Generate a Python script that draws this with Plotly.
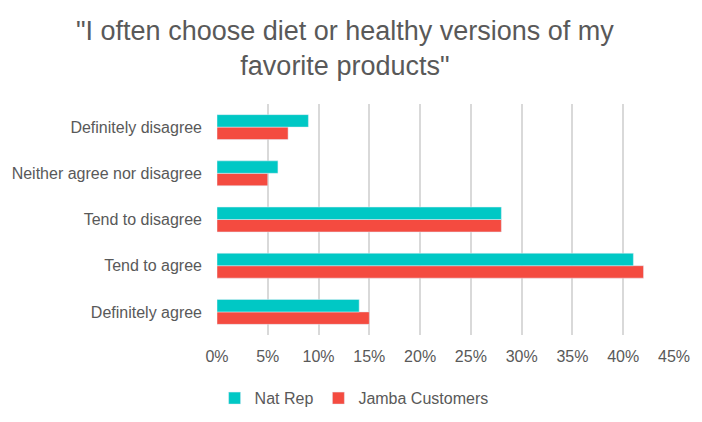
import plotly.graph_objects as go

categories = ["Definitely agree", "Tend to agree", "Tend to disagree",
              "Neither agree nor disagree", "Definitely disagree"]
nat_rep = [14, 41, 28, 6, 9]
jamba = [15, 42, 28, 5, 7]
tick_vals = [0, 5, 10, 15, 20, 25, 30, 35, 40, 45]
tick_text = [f"{v}%" for v in tick_vals]
title_text = '"I often choose diet or healthy versions of my<br>favorite products"'

FONT = "Liberation Sans"
GRAY = "#595959"

fig = go.Figure()
fig.add_trace(go.Bar(y=categories, x=jamba, orientation="h", name="Jamba Customers",
                     marker=dict(color="#F44B40")))
fig.add_trace(go.Bar(y=categories, x=nat_rep, orientation="h", name="Nat Rep",
                     marker=dict(color="#00C8C5")))

fig.update_layout(
    width=702, height=422,
    margin=dict(l=209, r=36, t=96, b=95, autoexpand=False),
    paper_bgcolor="white", plot_bgcolor="white",
    barmode="group", bargap=0.46, bargroupgap=0,
    font=dict(family=FONT, size=16, color=GRAY),
    xaxis=dict(range=[0, 45], tickvals=tick_vals, ticktext=tick_text,
               showgrid=True, gridcolor="#D9D9D9", gridwidth=1.5,
               zeroline=False, showline=False, ticks="", ticklen=0,
               automargin=False, ticklabelstandoff=10,
               tickfont=dict(size=16, color=GRAY)),
    yaxis=dict(showgrid=False, zeroline=False, showline=False, ticks="",
               automargin=False, ticklabelstandoff=14,
               tickfont=dict(size=16, color=GRAY)),
    legend=dict(orientation="h", x=0.3, xanchor="center", y=-0.2, yanchor="top",
                traceorder="reversed", itemwidth=30,
                font=dict(size=16, color=GRAY)),
    showlegend=True,
    annotations=[dict(text=title_text, xref="paper", yref="paper",
                      x=0.28, y=1.24, xanchor="center", yanchor="middle",
                      showarrow=False, align="center",
                      font=dict(family=FONT, size=27, color=GRAY))],
)

fig.write_html("out.html")
